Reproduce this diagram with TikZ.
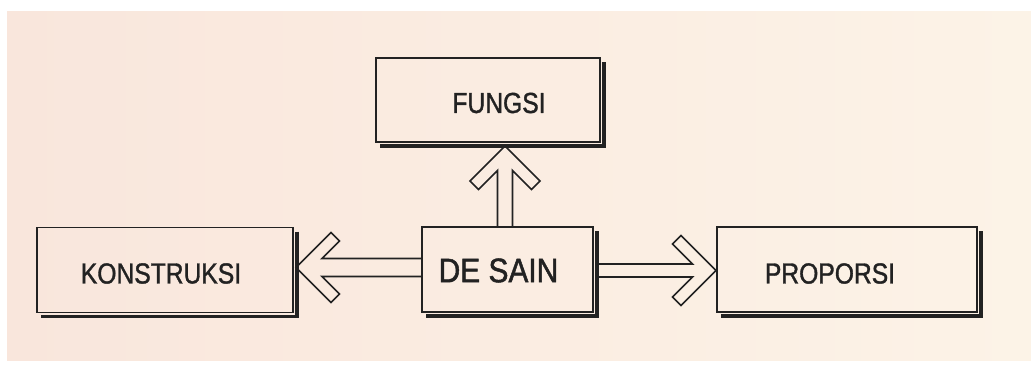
\documentclass[tikz,border=0pt]{standalone}
\usepackage{fontspec}
\usetikzlibrary{calc}
\newfontfamily\labfont[FakeStretch=0.85,FakeBold=1.2]{Liberation Sans}
\newfontfamily\bigfont[FakeStretch=0.88,FakeBold=1.4]{Liberation Sans}
\definecolor{ink}{HTML}{222222}
\definecolor{paperL}{HTML}{F9E6DC}
\definecolor{paperR}{HTML}{FCF3E7}
\tikzset{
  box/.style={draw=ink, line width=1.8pt, rectangle, inner sep=0pt},
  shadowline/.style={draw=ink, line width=3.2pt, line join=miter},
  hollow/.style={draw=ink, line width=1.6pt, line join=miter},
  lab/.style={text=ink, font=\labfont\fontsize{29}{32}\selectfont, inner sep=0pt},
  biglab/.style={text=ink, font=\bigfont\fontsize{34}{38}\selectfont, inner sep=0pt}
}
\newcommand\boxshadow[1]{%
  \draw[shadowline] ([xshift=3pt,yshift=-5pt]#1.north east) -- ([xshift=3pt,yshift=-3pt]#1.south east) -- ([xshift=5pt,yshift=-3pt]#1.south west);}
\begin{document}
\begin{tikzpicture}[x=1pt,y=1pt]
\useasboundingbox (0,0) rectangle (1031,365);
\fill[white] (0,0) rectangle (1031,365);
\shade[left color=paperL, right color=paperR] (7,5) rectangle (1031,353);
% boxes
\node[box, minimum width=224pt, minimum height=84pt] (F) at (488,265) {};
\node[box, minimum width=256pt, minimum height=85pt] (K) at (165,95) {};
\node[box, minimum width=171pt, minimum height=85pt] (D) at (507.5,95.5) {};
\node[box, minimum width=260pt, minimum height=85pt] (P) at (847,95.5) {};
\boxshadow{F}
\boxshadow{K}
\boxshadow{D}
\boxshadow{P}
% labels
\node[lab] (Ft) at ($(F.center)+(11,-3)$) {FUNGSI};
\node[lab] (Kt) at ($(K.center)+(-4,-3.5)$) {KONSTRUKSI};
\node[lab] (Pt) at ($(P.center)+(-17,-4)$) {PROPORSI};
\node[biglab] (Dt) at ($(D.center)+(-9,-1)$) {DE SAIN};
% up arrow
\coordinate (ut) at ($(F.south)+(17,-3)$);
\coordinate (u1) at ($(ut)+(7.5,-24.5)$);
\coordinate (u2) at ($(ut)+(-7.5,-24.5)$);
\draw[hollow] (u1 |- D.north) -- (u1) -- ($(ut)+(26.5,-43.5)$) -- ($(ut)+(35,-35)$) -- (ut)
  -- ($(ut)+(-35,-35)$) -- ($(ut)+(-26.5,-43.5)$) -- (u2) -- (u2 |- D.north);
% left arrow
\coordinate (lt) at ($(K.east)+(2,2.5)$);
\coordinate (l1) at ($(lt)+(26,9)$);
\coordinate (l2) at ($(lt)+(26,-9)$);
\draw[hollow] (D.west |- l1) -- (l1) -- ($(lt)+(43.5,26.5)$) -- ($(lt)+(35,35)$) -- (lt)
  -- ($(lt)+(35,-35)$) -- ($(lt)+(43.5,-26.5)$) -- (l2) -- (D.west |- l2);
% right arrow
\coordinate (rt) at ($(P.west)+(0,-1)$);
\coordinate (r1) at ($(rt)+(-23.5,6.5)$);
\coordinate (r2) at ($(rt)+(-23.5,-6.5)$);
\draw[hollow] ([xshift=3pt]D.east |- r1) -- (r1) -- ($(rt)+(-43.5,26.5)$) -- ($(rt)+(-35,35)$) -- (rt)
  -- ($(rt)+(-35,-35)$) -- ($(rt)+(-43.5,-26.5)$) -- (r2) -- ([xshift=3pt]D.east |- r2);
\end{tikzpicture}
\end{document}
